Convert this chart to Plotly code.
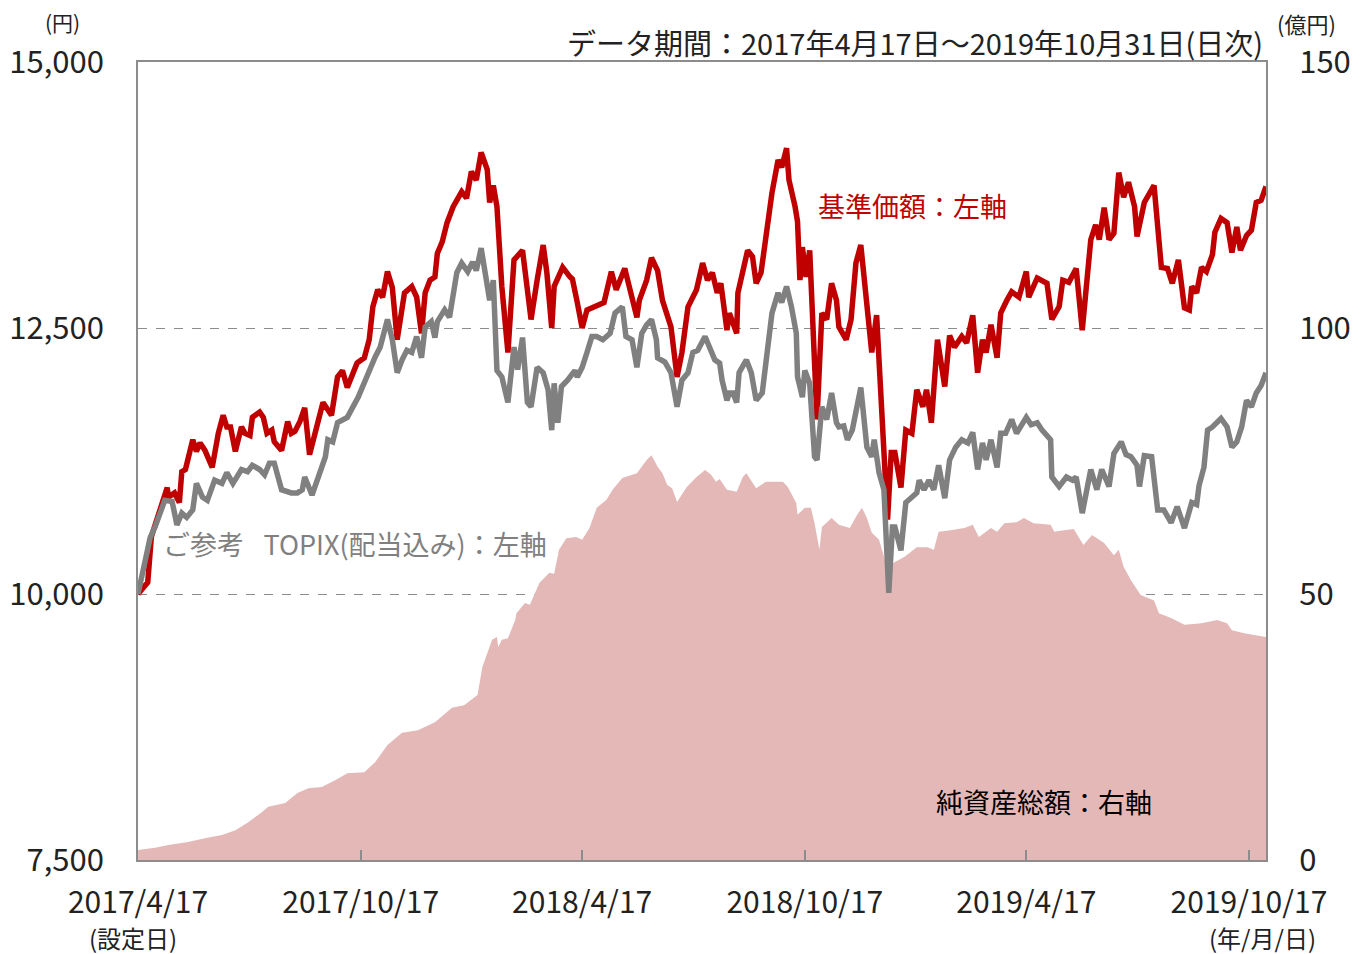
import pandas as pd
import plotly.graph_objects as go

START = "2017-04-17"
END = "2019-10-31"

# 基準価額 (円): days since launch, value
nav_day = [0, 8, 11, 24, 25, 30, 34, 36, 39, 41,
           45, 48, 51, 55, 61, 66, 70, 73, 76, 80,
           85, 88, 92, 94, 100, 103, 106, 110, 112, 118,
           123, 126, 129, 133, 137, 141, 148, 152, 159, 164,
           168, 172, 180, 186, 190, 193, 197, 201, 205, 209,
           213, 217, 219, 225, 229, 233, 236, 240, 244, 246,
           250, 254, 259, 266, 270, 274, 278, 282, 287, 289,
           292, 295, 299, 304, 309, 316, 323, 328, 333, 336,
           340, 342, 349, 355, 357, 361, 365, 369, 375, 383,
           389, 393, 400, 404, 410, 412, 418, 422, 427, 431,
           438, 443, 447, 452, 459, 464, 468, 472, 476, 479,
           484, 486, 492, 493, 497, 501, 505, 508, 512, 516,
           521, 526, 529, 533, 535, 540, 542, 544, 546, 549,
           552, 554, 558, 562, 566, 570, 574, 576, 582, 586,
           590, 594, 599, 603, 607, 611, 616, 619, 622, 627,
           631, 636, 640, 645, 648, 652, 657, 663, 667, 671,
           677, 681, 686, 690, 694, 697, 701, 706, 709, 714,
           718, 724, 730, 732, 739, 747, 751, 757, 760, 765,
           771, 776, 783, 787, 790, 794, 798, 802, 806, 810,
           814, 819, 821, 827, 835, 841, 846, 850, 855, 860,
           864, 866, 870, 874, 878, 883, 885, 890, 895, 899,
           903, 906, 911, 915, 919, 923, 927]
nav_val = [10000, 10110, 10540, 11000, 10910, 10950, 10860, 11150, 11170, 11260,
           11450, 11340, 11420, 11350, 11190, 11510, 11680, 11570, 11570, 11340,
           11570, 11510, 11490, 11660, 11710, 11660, 11510, 11540, 11430, 11350,
           11620, 11510, 11530, 11620, 11750, 11310, 11610, 11800, 11680, 12040,
           12100, 11940, 12170, 12220, 12390, 12700, 12860, 12790, 13030, 12880,
           12390, 12700, 12830, 12890, 12790, 12450, 12830, 12950, 12980, 13200,
           13310, 13490, 13640, 13780, 13720, 13970, 13890, 14150, 13990, 13680,
           13840, 13640, 12890, 12270, 13140, 13230, 12580, 12950, 13280, 13020,
           12500, 12890, 13070, 12980, 12960, 12740, 12500, 12670, 12700, 12740,
           13030, 12860, 13060, 12860, 12600, 12760, 12950, 13160, 13040, 12760,
           12510, 12040, 12270, 12700, 12860, 13110, 12950, 13020, 12830, 12920,
           12480, 12640, 12450, 12830, 13020, 13230, 13170, 12920, 13020, 13390,
           13770, 14080, 14010, 14190, 13890, 13640, 13500, 12950, 13260, 12980,
           13230, 12700, 11640, 12640, 12580, 12920, 12760, 12510, 12390, 12580,
           13110, 13280, 12700, 12270, 12620, 11820, 10700, 11330, 11330, 11000,
           11540, 11510, 11920, 11760, 11920, 11610, 12390, 11950, 12430, 12320,
           12420, 12360, 12620, 12080, 12390, 12270, 12530, 12220, 12640, 12760,
           12840, 12790, 13030, 12790, 12970, 12920, 12580, 12700, 12950, 12930,
           13060, 12480, 13330, 13470, 13330, 13630, 13330, 13390, 13960, 13730,
           13870, 13640, 13360, 13680, 13840, 13070, 13060, 12920, 13140, 12690,
           12670, 12890, 12830, 13070, 13030, 13190, 13400, 13530, 13490, 13210,
           13450, 13230, 13370, 13420, 13680, 13700, 13830]

# ご参考 TOPIX(配当込み) (基準価額と同じ起点に指数化)
topix_day = [0, 10, 14, 22, 28, 32, 36, 40, 45, 48,
             53, 57, 63, 69, 73, 78, 85, 90, 94, 100,
             104, 108, 112, 118, 126, 131, 135, 137, 143, 148,
             154, 156, 160, 164, 168, 172, 181, 189, 195, 199,
             203, 205, 209, 213, 217, 221, 225, 229, 233, 236,
             241, 244, 246, 252, 256, 262, 266, 271, 275, 278,
             282, 285, 289, 292, 295, 299, 304, 309, 312, 316,
             320, 323, 328, 333, 337, 340, 342, 345, 348, 353,
             359, 361, 365, 369, 373, 377, 382, 388, 392, 398,
             401, 406, 410, 414, 418, 422, 426, 427, 433, 438,
             443, 447, 452, 456, 460, 466, 470, 474, 478, 480,
             484, 486, 489, 492, 494, 500, 504, 508, 513, 517,
             521, 526, 529, 533, 537, 541, 542, 546, 548, 552,
             556, 558, 562, 566, 570, 574, 576, 580, 583, 587,
             591, 594, 599, 603, 605, 609, 613, 616, 617, 620,
             622, 627, 631, 635, 640, 642, 646, 650, 654, 658,
             663, 667, 672, 677, 682, 686, 690, 694, 697, 701,
             706, 709, 713, 718, 722, 730, 734, 739, 743, 750,
             751, 757, 763, 768, 771, 776, 783, 788, 792, 798,
             802, 808, 812, 816, 821, 823, 827, 833, 838, 843,
             849, 854, 860, 866, 870, 872, 876, 879, 883, 890,
             895, 899, 903, 907, 911, 915, 919, 923, 927]
topix_val = [10000, 10530, 10630, 10880, 10870, 10650, 10760, 10720, 10790, 11040,
             10910, 10880, 11070, 11040, 11140, 11040, 11170, 11150, 11210, 11170,
             11120, 11230, 11230, 10980, 10950, 10950, 10980, 11100, 10930, 11100,
             11290, 11450, 11430, 11610, 11640, 11660, 11850, 12080, 12230, 12320,
             12510, 12580, 12390, 12080, 12200, 12290, 12270, 12420, 12220, 12510,
             12560, 12410, 12560, 12670, 12600, 13020, 13110, 13030, 13120, 13040,
             13250, 13030, 12760, 12950, 12100, 12040, 11800, 12320, 12110, 12410,
             11800, 11760, 12130, 12080, 11920, 11540, 11980, 11610, 11950, 12010,
             12100, 12040, 12130, 12270, 12420, 12420, 12390, 12450, 12640, 12700,
             12420, 12390, 12130, 12450, 12530, 12580, 12390, 12220, 12180, 12080,
             11760, 12010, 12080, 12270, 12290, 12420, 12320, 12200, 12170, 12010,
             11820, 11890, 11890, 11800, 12080, 12200, 12080, 11820, 11890, 12270,
             12640, 12830, 12740, 12890, 12700, 12450, 12040, 11850, 12100, 11980,
             11290, 11260, 11760, 11640, 11890, 11610, 11570, 11580, 11450, 11540,
             11760, 11940, 11380, 11290, 11450, 11140, 10980, 10320, 10010, 10630,
             10630, 10410, 10860, 10900, 10950, 11070, 10980, 11070, 10980, 11210,
             10900, 11260, 11380, 11450, 11420, 11520, 11170, 11420, 11260, 11450,
             11190, 11510, 11510, 11640, 11510, 11660, 11590, 11610, 11540, 11450,
             11100, 11010, 11100, 11070, 11100, 10760, 11170, 10980, 11170, 11010,
             11320, 11430, 11310, 11290, 11210, 11010, 11300, 11290, 10790, 10790,
             10670, 10820, 10620, 10860, 10840, 11020, 11190, 11540, 11570, 11650,
             11570, 11380, 11430, 11570, 11820, 11760, 11890, 11960, 12080]

# 純資産総額 (億円)
aum_day = [0, 14, 25, 41, 55, 69, 80, 90, 102, 107,
           121, 131, 140, 151, 162, 172, 186, 195, 205, 217,
           230, 244, 258, 268, 279, 283, 291, 295, 296, 299,
           304, 310, 311, 318, 322, 330, 338, 342, 346, 352,
           360, 365, 371, 377, 385, 390, 398, 410, 418, 422,
           427, 431, 435, 439, 443, 451, 459, 466, 471, 475,
           478, 484, 492, 497, 500, 508, 516, 521, 530, 534,
           541, 542, 548, 553, 556, 560, 562, 570, 576, 585,
           591, 595, 599, 603, 609, 615, 617, 622, 630, 640,
           649, 654, 658, 668, 679, 686, 691, 701, 706, 712,
           722, 728, 736, 750, 753, 761, 769, 777, 784, 794,
           802, 806, 810, 816, 824, 835, 839, 849, 860, 874,
           887, 895, 899, 909, 927]
aum_val = [1.9, 2.3, 2.8, 3.4, 4.1, 4.7, 5.6, 7.0, 9.0, 10.0,
           10.7, 12.6, 13.5, 13.7, 15.0, 16.3, 16.5, 18.4, 21.6, 23.9,
           24.4, 25.9, 28.6, 29.1, 31.0, 36.3, 41.4, 41.9, 40.0, 41.4,
           41.7, 45.1, 46.4, 48.3, 48.0, 52.1, 54.0, 53.8, 58.3, 60.5,
           60.7, 60.2, 62.4, 66.2, 67.7, 69.6, 71.8, 72.7, 75.2, 76.1,
           73.9, 72.7, 70.5, 69.9, 67.3, 70.1, 72.0, 73.3, 72.4, 71.1,
           71.6, 69.6, 69.2, 72.0, 72.7, 69.9, 71.1, 71.1, 71.1, 70.1,
           67.1, 64.9, 66.2, 66.2, 63.3, 58.3, 62.6, 64.3, 63.0, 62.4,
           64.9, 66.2, 64.3, 61.5, 60.2, 55.5, 55.1, 56.0, 57.0, 58.8,
           58.8, 58.3, 61.7, 62.0, 62.4, 63.0, 60.7, 62.4, 61.7, 63.3,
           63.5, 64.3, 63.3, 63.0, 61.7, 62.0, 62.2, 59.2, 61.1, 59.6,
           57.3, 58.3, 55.1, 52.6, 49.8, 48.8, 46.4, 45.5, 44.2, 44.5,
           45.1, 44.5, 43.2, 42.6, 41.9]

tick_dates = ["2017-04-17", "2017-10-17", "2018-04-17", "2018-10-17", "2019-04-17", "2019-10-17"]
tick_text = ["2017/4/17", "2017/10/17", "2018/4/17", "2018/10/17", "2019/4/17", "2019/10/17"]
first_tick_note = "(設定日)"
last_tick_note = "(年/月/日)"

assert len(nav_day) == len(nav_val)
assert len(topix_day) == len(topix_val)
assert len(aum_day) == len(aum_val)


def to_dates(days):
    return pd.Timestamp(START) + pd.to_timedelta(days, unit="D")


FONT = "Noto Sans CJK JP, Noto Sans, sans-serif"
RED = "#C00000"
GREY = "#808080"
FILL = "#E5B8B8"
AXIS = "#8C8C8C"
TXT = "#222222"

fig = go.Figure()
fig.add_trace(go.Scatter(x=to_dates(aum_day), y=aum_val, mode="lines", fill="tozeroy",
                         fillcolor=FILL, line=dict(width=0, color=FILL), yaxis="y",
                         hoverinfo="skip", showlegend=False))
fig.add_trace(go.Scatter(x=to_dates(nav_day), y=nav_val, mode="lines",
                         line=dict(color=RED, width=5.5), yaxis="y2", showlegend=False))
fig.add_trace(go.Scatter(x=to_dates(topix_day), y=topix_val, mode="lines",
                         line=dict(color=GREY, width=5.5), yaxis="y2", showlegend=False))

fig.update_layout(
    width=1368, height=954,
    margin=dict(l=138, r=102, t=62, b=94),
    paper_bgcolor="white", plot_bgcolor="white",
    font=dict(family=FONT, size=29, color=TXT),
    xaxis=dict(type="date", range=[START, END], tickvals=tick_dates, ticktext=tick_text,
               ticks="inside", ticklen=10, tickwidth=1.5, tickcolor=AXIS,
               showline=True, linecolor=AXIS, linewidth=2, mirror=True,
               showgrid=False, zeroline=False, ticklabelstandoff=15, automargin=False,
               tickfont=dict(size=30, color=TXT)),
    yaxis=dict(side="right", range=[0, 150], tickvals=[0, 50, 100, 150],
               showline=True, linecolor=AXIS, linewidth=2, mirror=True,
               showgrid=True, gridcolor="#8C8C8C", griddash="dash", gridwidth=1.3,
               zeroline=False, ticks="", ticklabelstandoff=25, automargin=False,
               tickfont=dict(size=31, color=TXT)),
    yaxis2=dict(overlaying="y", side="left", range=[7500, 15000],
                tickvals=[7500, 10000, 12500, 15000], tickformat=",d",
                showline=False, showgrid=False, zeroline=False, ticks="",
                ticklabelstandoff=33, automargin=False, tickfont=dict(size=31, color=TXT)),
)


def px_x(px):
    return (px - 138) / 1128


def px_y(py):
    return (860 - py) / 798


ann = [
    dict(text="(円)", x=px_x(62), y=px_y(22), xanchor="center", yanchor="middle",
         font=dict(size=21, color=TXT)),
    dict(text="(億円)", x=px_x(1306), y=px_y(23), xanchor="center", yanchor="middle",
         font=dict(size=22, color=TXT)),
    dict(text="データ期間：2017年4月17日～2019年10月31日(日次)", x=px_x(1265), y=px_y(42),
         xanchor="right", yanchor="middle", font=dict(size=29, color=TXT)),
    dict(text="基準価額：左軸", x=px_x(816), y=px_y(205), xanchor="left", yanchor="middle",
         font=dict(size=27, color=RED)),
    dict(text="ご参考\u2002 TOPIX(配当込み)：左軸", x=px_x(161), y=px_y(543), xanchor="left",
         yanchor="middle", font=dict(size=27, color=GREY)),
    dict(text="純資産総額：右軸", x=px_x(934), y=px_y(801), xanchor="left", yanchor="middle",
         font=dict(size=27, color="#000000")),
    dict(text=first_tick_note, x=px_x(133), y=px_y(937), xanchor="center", yanchor="middle",
         font=dict(size=24, color=TXT)),
    dict(text=last_tick_note, x=px_x(1262), y=px_y(937), xanchor="center", yanchor="middle",
         font=dict(size=24, color=TXT)),
]
for a in ann:
    a.update(xref="paper", yref="paper", showarrow=False)
fig.update_layout(annotations=ann)

# remove the page's default body margin so the 1368x954 figure fills the window exactly
fig.write_html("out.html", config={"displayModeBar": False},
               post_script="document.body.style.margin='0';document.body.style.overflow='hidden';")
